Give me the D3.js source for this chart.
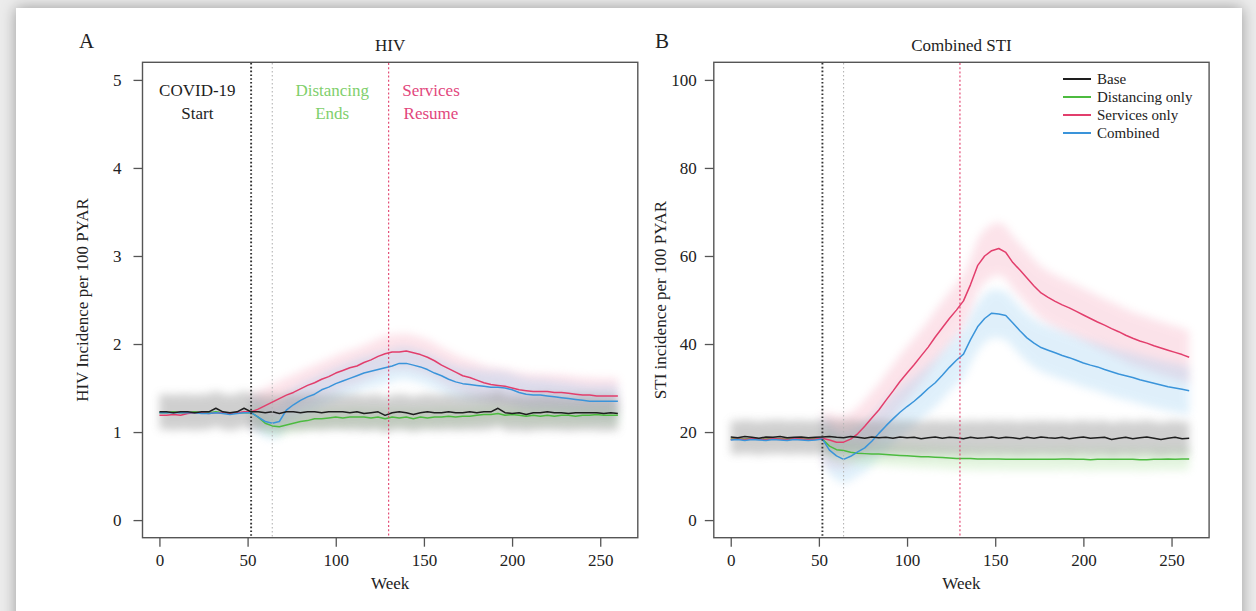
<!DOCTYPE html>
<html>
<head>
<meta charset="utf-8">
<script src="https://cdn.jsdelivr.net/npm/d3@7"></script>
<style>
  html, body { margin: 0; padding: 0; background: #ececec; }
  #card { position: absolute; left: 16px; top: 8px; width: 1226px; height: 620px;
          background: #fff; box-shadow: 0 0 14px rgba(0,0,0,0.35); }
  svg { position: absolute; left: 0; top: 0; }
  text { font-family: "Liberation Serif", "DejaVu Serif", serif; fill: #222; }
</style>
</head>
<body>
<div id="card"></div>
<svg width="1256" height="611"></svg>
<script>
// weeks shared by all series
var weeks = d3.range(0, 261, 4);

// HIV incidence per 100 PYAR
var hivBase = [1.23,1.23,1.22,1.23,1.23,1.22,1.23,1.23,1.27,1.23,1.22,1.23,1.27,1.23,1.23,1.22,1.23,1.21,1.23,1.23,
  1.22,1.23,1.23,1.22,1.23,1.23,1.23,1.22,1.23,1.21,1.22,1.23,1.19,1.22,1.23,1.22,1.20,1.22,1.23,1.22,
  1.22,1.23,1.22,1.22,1.23,1.22,1.23,1.23,1.27,1.22,1.21,1.22,1.20,1.22,1.22,1.23,1.22,1.22,1.21,1.22,
  1.22,1.22,1.22,1.21,1.22,1.21];
var hivDist = [1.22,1.22,1.23,1.22,1.22,1.23,1.22,1.22,1.23,1.22,1.21,1.22,1.22,1.22,1.17,1.10,1.07,1.06,1.08,1.10,
  1.12,1.13,1.15,1.15,1.16,1.17,1.16,1.17,1.17,1.17,1.16,1.17,1.15,1.17,1.16,1.17,1.15,1.17,1.16,1.17,
  1.17,1.18,1.17,1.18,1.18,1.19,1.20,1.20,1.21,1.19,1.20,1.19,1.18,1.19,1.18,1.19,1.18,1.19,1.19,1.18,
  1.19,1.19,1.20,1.19,1.19,1.19];
var hivSvc = [1.19,1.19,1.20,1.19,1.21,1.22,1.22,1.21,1.22,1.22,1.21,1.22,1.23,1.23,1.26,1.30,1.34,1.38,1.42,1.45,
  1.49,1.53,1.56,1.60,1.63,1.67,1.70,1.73,1.75,1.79,1.82,1.86,1.89,1.91,1.91,1.92,1.90,1.88,1.85,1.81,
  1.76,1.72,1.68,1.64,1.62,1.59,1.56,1.54,1.53,1.52,1.50,1.48,1.47,1.46,1.46,1.46,1.45,1.45,1.44,1.43,
  1.42,1.42,1.41,1.41,1.41,1.41];
var hivComb = [1.22,1.22,1.22,1.22,1.22,1.22,1.21,1.21,1.22,1.21,1.20,1.21,1.22,1.22,1.17,1.12,1.10,1.12,1.25,1.31,
  1.36,1.40,1.43,1.48,1.51,1.55,1.58,1.61,1.64,1.67,1.69,1.71,1.73,1.75,1.78,1.78,1.76,1.74,1.71,1.67,
  1.64,1.60,1.57,1.55,1.54,1.53,1.52,1.51,1.51,1.50,1.48,1.45,1.43,1.42,1.42,1.41,1.40,1.39,1.38,1.37,
  1.36,1.35,1.35,1.35,1.35,1.35];
var hivBandHalf = [0.20, 0.10, 0.20, 0.18]; // base, distancing, services, combined

// STI incidence per 100 PYAR
var stiBase = [18.9,18.7,19.0,18.8,18.6,18.9,18.8,19.0,18.7,18.8,18.9,18.7,18.8,18.9,19.0,18.8,18.7,19.0,18.8,18.6,
  18.9,18.7,18.8,18.6,18.9,18.7,18.8,18.5,18.7,18.9,18.6,18.8,18.7,18.5,18.8,18.6,18.7,18.9,18.6,18.8,
  18.7,18.5,18.8,18.6,18.9,18.7,18.6,18.8,18.5,18.7,18.9,18.6,18.7,18.8,18.3,18.6,18.8,18.5,18.7,18.9,
  18.6,18.3,18.6,18.8,18.5,18.6];
var stiDist = [18.4,18.5,18.4,18.6,18.5,18.4,18.6,18.5,18.4,18.6,18.5,18.4,18.5,18.4,16.8,16.0,15.8,15.4,15.2,15.1,
  15.0,15.0,14.9,14.8,14.7,14.6,14.5,14.4,14.4,14.3,14.2,14.1,14.0,14.0,14.0,13.9,13.9,13.9,13.9,13.8,
  13.8,13.8,13.8,13.8,13.8,13.8,13.8,13.9,13.9,13.8,13.8,13.7,13.8,13.8,13.8,13.8,13.8,13.8,13.7,13.7,
  13.8,13.8,13.9,13.8,13.9,13.9];
var stiSvc = [18.3,18.4,18.3,18.5,18.4,18.3,18.5,18.4,18.3,18.5,18.4,18.3,18.4,18.6,18.2,17.7,17.7,18.4,19.6,21.3,
  23.2,25.0,27.2,29.3,31.5,33.4,35.3,37.3,39.3,41.6,43.7,45.8,47.7,49.8,53.5,57.8,60.0,61.2,61.7,60.8,
  58.5,56.8,55.0,53.2,51.6,50.6,49.7,48.9,48.2,47.4,46.6,45.8,45.0,44.3,43.5,42.8,42.0,41.3,40.7,40.2,
  39.6,39.1,38.6,38.1,37.6,37.0];
var stiComb = [18.2,18.3,18.1,18.3,18.2,18.1,18.3,18.2,18.1,18.3,18.2,18.1,18.2,18.4,15.9,14.6,13.8,14.5,15.5,16.4,
  17.9,19.7,21.4,23.0,24.5,25.8,27.0,28.4,29.9,31.2,32.9,34.7,36.3,37.7,41.0,43.9,45.8,47.0,46.8,46.5,
  44.8,43.0,41.4,40.2,39.2,38.6,38.0,37.4,36.9,36.3,35.7,35.2,34.8,34.2,33.7,33.2,32.8,32.4,31.9,31.5,
  31.1,30.7,30.3,30.0,29.7,29.4];
var stiBandHalf = [3.8, 2.5, 6.0, 5.5];

var seriesNames = ["Base", "Distancing only", "Services only", "Combined"];
var seriesColors = ["#1e1e1e", "#4cbb3f", "#e23e6c", "#3a94da"];
var bandColors = ["#8f8f8f", "#a6df98", "#f5a3b9", "#97cdf1"];

var eventWeeks = [52, 64, 130];
var hivTicksY = [0, 1, 2, 3, 4, 5];
var stiTicksY = [0, 20, 40, 60, 80, 100];
var weekTicks = [0, 50, 100, 150, 200, 250];

var svg = d3.select("svg");

var defs = svg.append("defs");
defs.append("filter").attr("id", "soft")
    .attr("x", "-10%").attr("y", "-30%").attr("width", "120%").attr("height", "160%")
  .append("feGaussianBlur").attr("stdDeviation", 4);

function drawPanel(p) {
  var x = d3.scaleLinear().domain([-9.6, 271.3]).range([p.left, p.left + 495.3]);
  var y = d3.scaleLinear().domain([p.yMax * -0.04, p.yMax * 1.04]).range([537.7, 62.3]);
  var g = svg.append("g");

  g.append("clipPath").attr("id", "clip" + p.id)
    .append("rect").attr("x", x.range()[0]).attr("y", 62.3)
    .attr("width", 495.3).attr("height", 475.4);
  var inner = g.append("g").attr("clip-path", "url(#clip" + p.id + ")");

  // confidence bands, drawn soft; scenario bands only after COVID-19 start
  [2, 3, 1, 0].forEach(function (k) {
    var from = k === 0 ? 0 : eventWeeks[0];
    var area = d3.area()
      .defined(function (d, i) { return weeks[i] >= from; })
      .x(function (d, i) { return x(weeks[i]); })
      .y0(function (d) { return y(d - p.band[k]); })
      .y1(function (d) { return y(d + p.band[k]); });
    inner.append("path")
      .attr("d", area(p.series[k]))
      .attr("fill", bandColors[k])
      .attr("opacity", k === 0 ? 0.42 : 0.3)
      .attr("filter", "url(#soft)");
  });

  // event lines
  var evStyles = [
    { c: "#333", w: 1.9, dash: "1.6,2.2" },
    { c: "#b5b5b5", w: 1.1, dash: "1.5,2.5" },
    { c: "#e23e6c", w: 1.1, dash: "2,2.2" }
  ];
  eventWeeks.forEach(function (wk, i) {
    g.append("line")
      .attr("x1", x(wk)).attr("x2", x(wk))
      .attr("y1", 63).attr("y2", 537)
      .attr("stroke", evStyles[i].c)
      .attr("stroke-width", evStyles[i].w)
      .attr("stroke-dasharray", evStyles[i].dash);
  });

  // lines
  var line = d3.line()
    .x(function (d, i) { return x(weeks[i]); })
    .y(function (d) { return y(d); });
  [1, 2, 3, 0].forEach(function (k) {
    inner.append("path")
      .attr("d", line(p.series[k]))
      .attr("fill", "none")
      .attr("stroke", seriesColors[k])
      .attr("stroke-width", 1.5)
      .attr("stroke-linejoin", "round");
  });

  // box
  g.append("rect")
    .attr("x", x.range()[0]).attr("y", 62.3)
    .attr("width", 495.3).attr("height", 475.4)
    .attr("fill", "none").attr("stroke", "#555").attr("stroke-width", 1.4);

  // axes
  var ax = g.append("g").attr("transform", "translate(0,537.7)")
    .call(d3.axisBottom(x).tickValues(weekTicks).tickSize(9).tickPadding(7).tickFormat(d3.format("d")));
  var ay = g.append("g").attr("transform", "translate(" + x.range()[0] + ",0)")
    .call(d3.axisLeft(y).tickValues(p.yTicks).tickSize(9).tickPadding(p.yPad).tickFormat(d3.format("d")));
  [ax, ay].forEach(function (a) {
    a.select(".domain").remove();
    a.selectAll(".tick line").attr("stroke", "#555").attr("stroke-width", 1.3);
    a.selectAll(".tick text").attr("font-size", 17).attr("fill", "#222")
      .style("font-family", "'Liberation Serif', serif");
  });

  var cx = x.range()[0] + 495.3 / 2;
  g.append("text").attr("x", cx).attr("y", 51).attr("text-anchor", "middle")
    .attr("font-size", 17).text(p.title);
  g.append("text").attr("x", p.letterX).attr("y", 48)
    .attr("font-size", 21).text(p.letter);
  g.append("text").attr("x", cx).attr("y", 589).attr("text-anchor", "middle")
    .attr("font-size", 17).text("Week");
  g.append("text")
    .attr("transform", "translate(" + p.ylabX + ",300) rotate(-90)")
    .attr("text-anchor", "middle").attr("font-size", 17).text(p.ylab);

  return { x: x, y: y, g: g };
}

var A = drawPanel({ id: "A", left: 142.5, yMax: 5, yTicks: hivTicksY, yPad: 12,
  series: [hivBase, hivDist, hivSvc, hivComb], band: hivBandHalf,
  title: "HIV", letter: "A", letterX: 79, ylab: "HIV Incidence per 100 PYAR", ylabX: 88 });

var B = drawPanel({ id: "B", left: 713.8, yMax: 100, yTicks: stiTicksY, yPad: 8,
  series: [stiBase, stiDist, stiSvc, stiComb], band: stiBandHalf,
  title: "Combined STI", letter: "B", letterX: 655, ylab: "STI incidence per 100 PYAR", ylabX: 666 });

// event annotations in panel A
var notes = [
  { wk: 21.5, lines: ["COVID-19", "Start"], c: "#1e1e1e" },
  { wk: 98, lines: ["Distancing", "Ends"], c: "#7fcf6c" },
  { wk: 154, lines: ["Services", "Resume"], c: "#e2467c" }
];
notes.forEach(function (n) {
  n.lines.forEach(function (s, j) {
    A.g.append("text").attr("x", A.x(n.wk)).attr("y", 96 + j * 23)
      .attr("text-anchor", "middle").attr("font-size", 17)
      .style("fill", n.c).text(s);
  });
});

// legend in panel B
var leg = B.g.append("g").attr("transform", "translate(1063,79)");
seriesNames.forEach(function (name, i) {
  leg.append("line").attr("x1", 0).attr("x2", 28)
    .attr("y1", i * 18).attr("y2", i * 18)
    .attr("stroke", seriesColors[i]).attr("stroke-width", 2);
  leg.append("text").attr("x", 34).attr("y", i * 18 + 5)
    .attr("font-size", 15).text(name);
});
</script>
</body>
</html>
